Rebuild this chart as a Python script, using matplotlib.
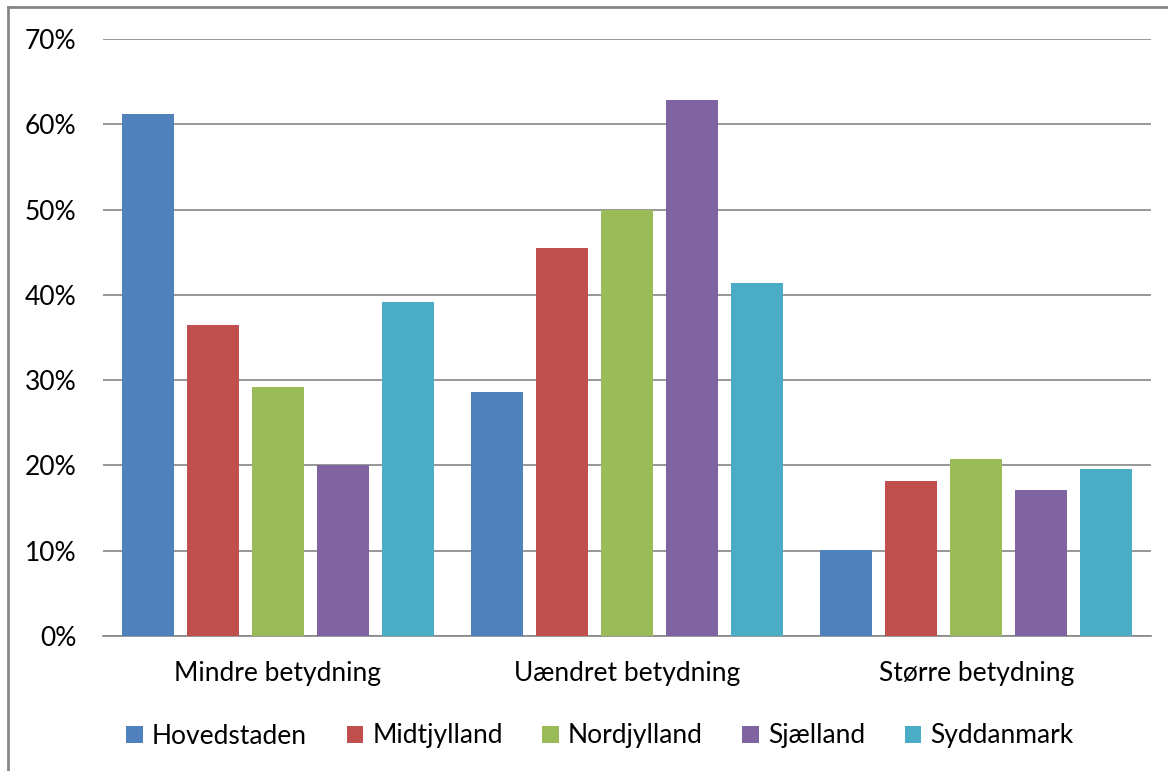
import numpy as np
import matplotlib.pyplot as plt
from matplotlib.lines import Line2D
from matplotlib.ticker import PercentFormatter

plt.rcParams['font.family'] = ['Lato', 'DejaVu Sans']

categories = ['Mindre betydning', 'Uændret betydning', 'Større betydning']
regions = ['Hovedstaden', 'Midtjylland', 'Nordjylland', 'Sjælland', 'Syddanmark']
hovedstaden = [61.2, 28.6, 10.1]
midtjylland = [36.5, 45.5, 18.2]
nordjylland = [29.2, 50.0, 20.8]
sjaelland = [20.0, 62.9, 17.1]
syddanmark = [39.2, 41.4, 19.6]
colors = ['#4F81BD', '#C0504D', '#9BBB59', '#8064A2', '#4BACC6']

series = [hovedstaden, midtjylland, nordjylland, sjaelland, syddanmark]

fig = plt.figure(figsize=(11.68, 7.71), dpi=100)
ax = fig.add_axes([103 / 1168, 1 - 636 / 771, 1048 / 1168, 597 / 771])

x = np.arange(len(categories))
width = 0.149
step = 0.186
for i, (vals, name, c) in enumerate(zip(series, regions, colors)):
    ax.bar(x + (i - 2) * step, vals, width, color=c, label=name, zorder=3)

ax.set_xlim(-0.5, 2.5)
ax.set_ylim(0, 70)
ax.set_yticks(range(0, 71, 10))
ax.yaxis.set_major_formatter(PercentFormatter(decimals=0))
ax.grid(axis='y', color='#868686', linewidth=1.2, zorder=0)
ax.set_xticks(x)
ax.set_xticklabels(categories)
ax.tick_params(axis='both', length=0, labelsize=19, colors='#000000')
ax.tick_params(axis='y', pad=19)
ax.tick_params(axis='x', pad=18)
for s in ['top', 'right', 'left']:
    ax.spines[s].set_visible(False)
ax.spines['bottom'].set_color('#868686')
ax.spines['bottom'].set_linewidth(1.2)

fig.legend(loc='center', bbox_to_anchor=(600 / 1168, 1 - 736 / 771), ncol=5, frameon=False,
           fontsize=19, handlelength=0.62, handleheight=0.62, handletextpad=0.35,
           columnspacing=1.5)

# outer chart border
fig.add_artist(Line2D([8 / 1168, 8 / 1168], [0, 1 - 7 / 771], transform=fig.transFigure,
                      color='#878787', linewidth=2))
fig.add_artist(Line2D([8 / 1168, 1], [1 - 7 / 771, 1 - 7 / 771], transform=fig.transFigure,
                      color='#878787', linewidth=2))

fig.savefig('out.png', dpi=100)
